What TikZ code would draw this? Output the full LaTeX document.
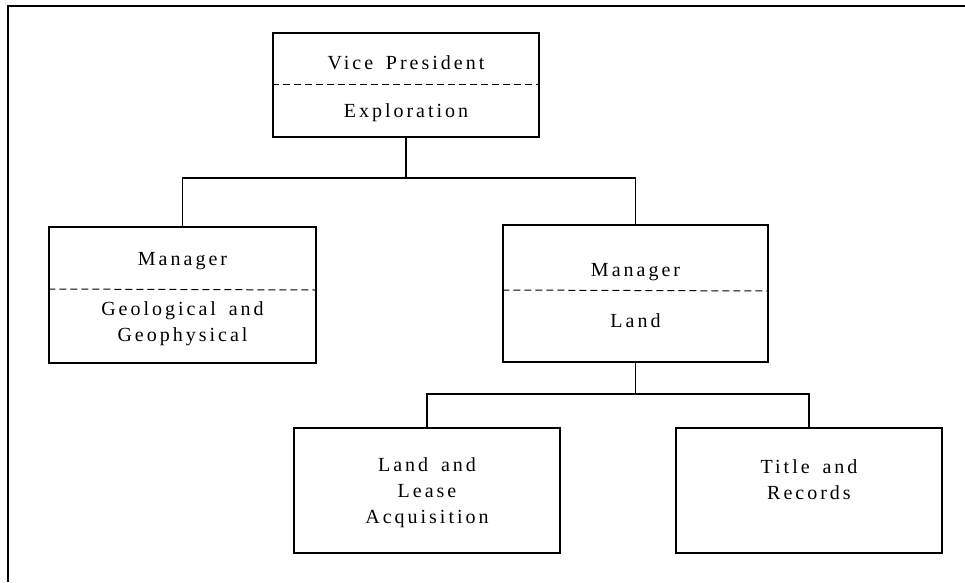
\documentclass[tikz,border=0pt]{standalone}
\usepackage{fontspec}
\setmainfont{Liberation Serif}[LetterSpace=15,WordSpace=1.6]

\begin{document}
\begin{tikzpicture}[x=1pt,y=-1pt,
  casella/.style={draw=black,line width=1.3pt,minimum width=266pt,inner sep=0pt},
  divisore/.style={black,line width=1pt,dash pattern=on 7pt off 4pt},
  ramo/.style={black,line width=1.3pt},
  testo/.style={font=\fontsize{20}{26}\selectfont,align=center,inner sep=0pt}]
  \useasboundingbox (0,0) rectangle (965,582);
  % Cornice ritagliata: restano solo il lato alto e il lato sinistro.
  \draw[line width=1.6pt] (8,582) -- (8,6) -- (965,6);
  % Caselle dell'organigramma.
  \node[casella,minimum height=104pt] (vp) at (406,85) {};
  \node[casella,minimum width=267pt,minimum height=136pt] (geo) at (182.5,295) {};
  \node[casella,minimum width=265pt,minimum height=137pt] (land) at (635.5,293.5) {};
  \node[casella,minimum height=125pt] (lease) at (427,490.5) {};
  \node[casella,minimum height=125pt] (title) at (809,490.5) {};
  % Linee tratteggiate fra carica e reparto.
  \draw[divisore] (vp.west |- 0,84) -- (vp.east |- 0,84);
  \draw[divisore] (geo.west |- 0,289) -- (geo.east |- 0,290);
  \draw[divisore] (land.west |- 0,290) -- (land.east |- 0,291);
  % Testi delle caselle.
  \node[testo] (vpcarica) at (406,63) {Vice President};
  \node[testo] (vpreparto) at (406,113) {Exploration};
  \node[testo] (geocarica) at (182.5,261) {Manager};
  \node[testo] (georeparto) at (182.5,324) {Geological and\\Geophysical};
  \node[testo] (landcarica) at (635.5,272) {Manager};
  \node[testo] (landreparto) at (635.5,321) {Land};
  \node[testo] (leasetesto) at (427,493) {Land and\\Lease\\Acquisition};
  \node[testo] (titletesto) at (809,480) {Title and\\Records};
  % Rami: dal capo giu' alla barra, poi ai sottoposti.
  \coordinate (barra1) at (406,178);
  \coordinate (barra2) at (635.5,394);
  \draw[ramo] (vp.south) -- (barra1);
  \draw[ramo] (geo.north) |- (barra1) -| (land.north);
  \draw[ramo] (land.south) -- (barra2);
  \draw[ramo] (lease.north) |- (barra2) -| (title.north);
\end{tikzpicture}
\end{document}
